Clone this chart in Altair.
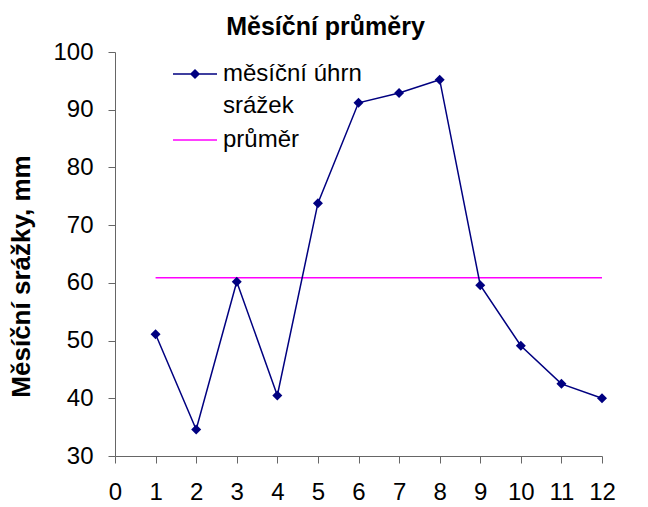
import altair as alt
import pandas as pd

# ---- data ----
mesice = [1, 2, 3, 4, 5, 6, 7, 8, 9, 10, 11, 12]
srazky = [51.1, 34.6, 60.2, 40.5, 73.8, 91.2, 92.9, 95.2, 59.6, 49.1, 42.5, 40.0]
serie = ["měsíční úhrn srážek", "průměr"]
x_ticks = list(range(0, 13))
y_ticks = [30, 40, 50, 60, 70, 80, 90, 100]

NAVY = "#000080"
MAGENTA = "#FF00FF"
FONT = "Liberation Sans"

df = pd.DataFrame({"mesic": mesice, "srazky": srazky})
legend_df = pd.DataFrame({"serie": serie})

x_enc = alt.X("mesic:Q", scale=alt.Scale(domain=[0, 12], nice=False),
              axis=alt.Axis(values=x_ticks, title=None, labelPadding=17, labelFlush=False))
y_enc = alt.Y("srazky:Q", scale=alt.Scale(domain=[30, 100], nice=False, zero=False),
              axis=alt.Axis(values=y_ticks, title="Měsíční srážky, mm",
                            titleFontSize=26, titleFontWeight="bold", titleFont=FONT,
                            titleAngle=270, titleBaseline="middle", titleAlign="center",
                            titleLineHeight=26, labelFlush=False,
                            titleX=-94, titleY=224, labelPadding=15))

base = alt.Chart(df)

mean_line = base.transform_joinaggregate(
    prumer="mean(srazky)"
).mark_line(color=MAGENTA, strokeWidth=1.5).encode(
    x=x_enc, y=alt.Y("prumer:Q", scale=alt.Scale(domain=[30, 100], nice=False, zero=False))
)

line = base.mark_line(color=NAVY, strokeWidth=1.5).encode(x=x_enc, y=y_enc)
points = base.mark_point(shape="diamond", filled=True, color=NAVY, size=100, opacity=1).encode(
    x=x_enc, y=y_enc)

# legend symbols: line + diamond, line only
sym1 = "M-1,-0.034L1,-0.034L1,0.034L-1,0.034Z M0,-0.23L0.23,0L0,0.23L-0.23,0Z"
sym2 = "M-1,-0.034L1,-0.034L1,0.034L-1,0.034Z"

legend_layer = alt.Chart(legend_df).transform_filter("false").mark_point(
    filled=True, opacity=1, size=100
).encode(
    color=alt.Color("serie:N", scale=alt.Scale(domain=serie, range=[NAVY, MAGENTA]),
                    legend=alt.Legend(
                        title=None, orient="none", legendX=58, legendY=0,
                        symbolSize=1936, symbolStrokeWidth=0, padding=0,
                        labelFont=FONT, labelFontSize=24, labelColor="black",
                        labelOffset=6, labelLimit=400, rowPadding=0,
                        labelBaseline="middle",
                        labelExpr="datum.label == 'měsíční úhrn srážek' ? ['měsíční úhrn', 'srážek'] : datum.label",
                    )),
    shape=alt.Shape("serie:N", scale=alt.Scale(domain=serie, range=[sym1, sym2])),
)

chart = alt.layer(mean_line, line, points, legend_layer).properties(
    width=487, height=404,
    autosize=alt.AutoSizeParams(type="none"),
    padding={"left": 107, "top": 44, "right": 38, "bottom": 48},
    title=alt.TitleParams("Měsíční průměry", font=FONT, fontSize=25, fontWeight="bold",
                          color="black", offset=0, dx=-33, anchor="middle", lineHeight=25),
).configure(
    style={"guide-label": {"lineHeight": 32}},
    view=alt.ViewConfig(stroke=None),
    axis=alt.AxisConfig(
        grid=False, domainColor="#666666", tickColor="#666666", tickSize=7,
        labelFont=FONT, labelFontSize=24, labelColor="black", domainWidth=1, tickWidth=1,
        labelLineHeight=24,
    ),
)

chart.save("out.html", embed_options={"renderer": "svg", "actions": False})
